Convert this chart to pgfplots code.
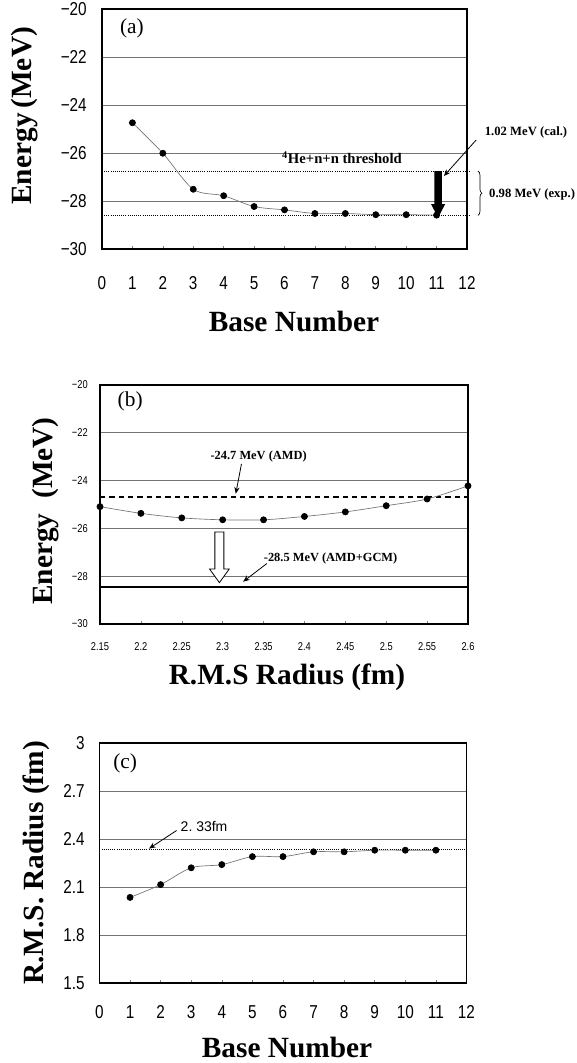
\documentclass[border=0pt]{standalone}
\usepackage{fontspec}
\setmainfont{Liberation Serif}
\newfontfamily\tickfont[FakeStretch=0.82]{Liberation Sans}
\newfontfamily\plainsans{Liberation Sans}
\usepackage{pgfplots}
\pgfplotsset{compat=1.18}
\usetikzlibrary{arrows.meta,decorations.pathreplacing}

\pgfplotsset{
  panel/.style={
    scale only axis, anchor=south west, clip=false,
    axis line style={line width=1pt},
    ymajorgrids, grid style={black!55, line width=0.5pt},
    major tick length=2pt, tick style={gray, line width=0.4pt},
    ytick style={draw=none},
    xtick pos=bottom, ytick pos=left,
    label style={font=\bfseries\fontsize{22}{22}\selectfont},
    xlabel style={anchor=center},
    ylabel style={anchor=center},
  },
  bigticks/.style={tick label style={font=\tickfont\fontsize{14}{14}\selectfont}},
  smallticks/.style={tick label style={font=\tickfont\fontsize{8.5}{8.5}\selectfont}},
  series/.style={black!55, line width=0.5pt, smooth, mark=*, mark size=2.3pt,
    mark options={black, fill=black}},
}

\begin{document}
\begin{tikzpicture}
\useasboundingbox (0pt,0pt) rectangle (432.75pt,-797.25pt);

% (a) energy against base number
\begin{axis}[panel, bigticks,
  at={(76.5pt,-186.75pt)}, width=273.75pt, height=180pt,
  xmin=0, xmax=12, ymin=-30, ymax=-20,
  xtick={0,1,2,3,4,5,6,7,8,9,10,11,12},
  xticklabels={0,1,2,3,4,5,6,7,8,9,10,11,12},
  ytick={-30,-28,-26,-24,-22,-20},
  yticklabels={−30,−28,−26,−24,−22,−20},
  xticklabel style={anchor=base, inner sep=0pt, yshift=-30.5pt},
  yticklabel style={anchor=east, inner sep=0pt, xshift=-11.25pt},
  xlabel={Base Number}, ylabel={Energy\,(MeV)},
  xlabel style={at={(axis description cs:0.526,-0.304)}},
  ylabel style={at={(axis description cs:-0.211,0.555)}},
]
\addplot[black, densely dotted, line width=0.6pt] coordinates {(0,-26.75) (12.1,-26.75)};
\addplot[black, densely dotted, line width=0.6pt] coordinates {(0,-28.6) (12.1,-28.6)};
\addplot[series] coordinates {
  (1,-24.74) (2,-26.01) (3,-27.51) (4,-27.78) (5,-28.23) (6,-28.37)
  (7,-28.52) (8,-28.52) (9,-28.57) (10,-28.57) (11,-28.59)};
\fill[black] (axis cs:10.93,-26.75) -- (axis cs:11.17,-26.75) -- (axis cs:11.17,-28.13)
  -- (axis cs:11.28,-28.13) -- (axis cs:11.05,-28.70) -- (axis cs:10.82,-28.13)
  -- (axis cs:10.93,-28.13) -- cycle;
\draw[-{Stealth[length=5pt,width=4pt]}, line width=0.6pt] (axis cs:12.3,-25.46) -- (axis cs:11.24,-26.96);
\node[font=\bfseries\fontsize{9.5}{9.5}\selectfont] at (axis cs:13.94,-25.13) {1.02 MeV (cal.)};
\draw[decorate, decoration={brace, amplitude=3pt}, line width=0.5pt]
  (axis cs:12.36,-26.75) -- (axis cs:12.36,-28.6);
\node[anchor=west, inner sep=0pt, font=\bfseries\fontsize{9.5}{9.5}\selectfont] at (axis cs:12.72,-27.72) {0.98 MeV (exp.)};
\node[font=\bfseries\fontsize{11}{11}\selectfont] at (axis cs:7.89,-26.2) {\textsuperscript{4}He+n+n threshold};
\node[font=\fontsize{16}{16}\selectfont] at (rel axis cs:0.082,0.92) {(a)};
\end{axis}

% (b) energy against r.m.s. radius
\begin{axis}[panel, smallticks,
  at={(75pt,-468pt)}, width=276pt, height=179.25pt,
  xmin=2.15, xmax=2.6, ymin=-30, ymax=-20,
  xtick={2.15,2.2,2.25,2.3,2.35,2.4,2.45,2.5,2.55,2.6},
  xticklabels={2.15,2.2,2.25,2.3,2.35,2.4,2.45,2.5,2.55,2.6},
  ytick={-30,-28,-26,-24,-22,-20},
  yticklabels={−30,−28,−26,−24,−22,−20},
  xticklabel style={anchor=base, inner sep=0pt, yshift=-20pt},
  yticklabel style={anchor=east, inner sep=0pt, xshift=-9pt},
  xlabel={R.M.S Radius (fm)}, ylabel={Energy\ \ (MeV)},
  xlabel style={at={(axis description cs:0.508,-0.222)}},
  ylabel style={at={(axis description cs:-0.147,0.473)}},
]
\addplot[black, line width=1.6pt, dash pattern=on 4pt off 3pt] coordinates {(2.15,-24.7) (2.6,-24.7)};
\addplot[black, line width=2pt] coordinates {(2.15,-28.45) (2.6,-28.45)};
\addplot[series] coordinates {
  (2.15,-25.09) (2.2,-25.37) (2.25,-25.56) (2.3,-25.64) (2.35,-25.64)
  (2.4,-25.50) (2.45,-25.31) (2.5,-25.05) (2.55,-24.77) (2.6,-24.22)};
\draw[black, fill=white, line width=0.6pt] (axis cs:2.2905,-26.15) -- (axis cs:2.3015,-26.15)
  -- (axis cs:2.3015,-27.7) -- (axis cs:2.308,-27.7) -- (axis cs:2.296,-28.27)
  -- (axis cs:2.284,-27.7) -- (axis cs:2.2905,-27.7) -- cycle;
\node[font=\bfseries\fontsize{9.3}{9.3}\selectfont] at (axis cs:2.344,-23.0) {-24.7 MeV (AMD)};
\draw[-{Stealth[length=5pt,width=4pt]}, line width=0.6pt] (axis cs:2.323,-23.3) -- (axis cs:2.316,-24.55);
\node[font=\bfseries\fontsize{9.3}{9.3}\selectfont] at (axis cs:2.432,-27.24) {-28.5 MeV (AMD+GCM)};
\draw[-{Stealth[length=5pt,width=4pt]}, line width=0.6pt] (axis cs:2.354,-27.47) -- (axis cs:2.325,-28.23);
\node[font=\fontsize{16}{16}\selectfont] at (rel axis cs:0.082,0.93) {(b)};
\end{axis}

% (c) r.m.s. radius against base number
\begin{axis}[panel, bigticks,
  at={(74.6pt,-737.25pt)}, width=275.25pt, height=180pt,
  xmin=0, xmax=12, ymin=1.5, ymax=3,
  xtick={0,1,2,3,4,5,6,7,8,9,10,11,12},
  xticklabels={0,1,2,3,4,5,6,7,8,9,10,11,12},
  ytick={1.5,1.8,2.1,2.4,2.7,3},
  yticklabels={1.5,1.8,2.1,2.4,2.7,3},
  xticklabel style={anchor=base, inner sep=0pt, yshift=-26.5pt},
  yticklabel style={anchor=east, inner sep=0pt, xshift=-10.9pt},
  xlabel={Base Number}, ylabel={R.M.S. Radius (fm)},
  xlabel style={at={(axis description cs:0.511,-0.267)}},
  ylabel style={at={(axis description cs:-0.173,0.5)}},
]
\addplot[black, densely dotted, line width=0.6pt] coordinates {(0,2.335) (12.05,2.335)};
\addplot[series] coordinates {
  (1,2.035) (2,2.115) (3,2.22) (4,2.24) (5,2.29) (6,2.29)
  (7,2.32) (8,2.32) (9,2.33) (10,2.33) (11,2.33)};
\node[font=\plainsans\fontsize{10.5}{10.5}\selectfont] at (axis cs:3.42,2.478) {2.~33fm};
\draw[-{Stealth[length=5pt,width=4pt]}, line width=0.6pt] (axis cs:2.52,2.453) -- (axis cs:1.62,2.34);
\node[font=\fontsize{16}{16}\selectfont] at (rel axis cs:0.07,0.915) {(c)};
\end{axis}
\end{tikzpicture}
\end{document}
